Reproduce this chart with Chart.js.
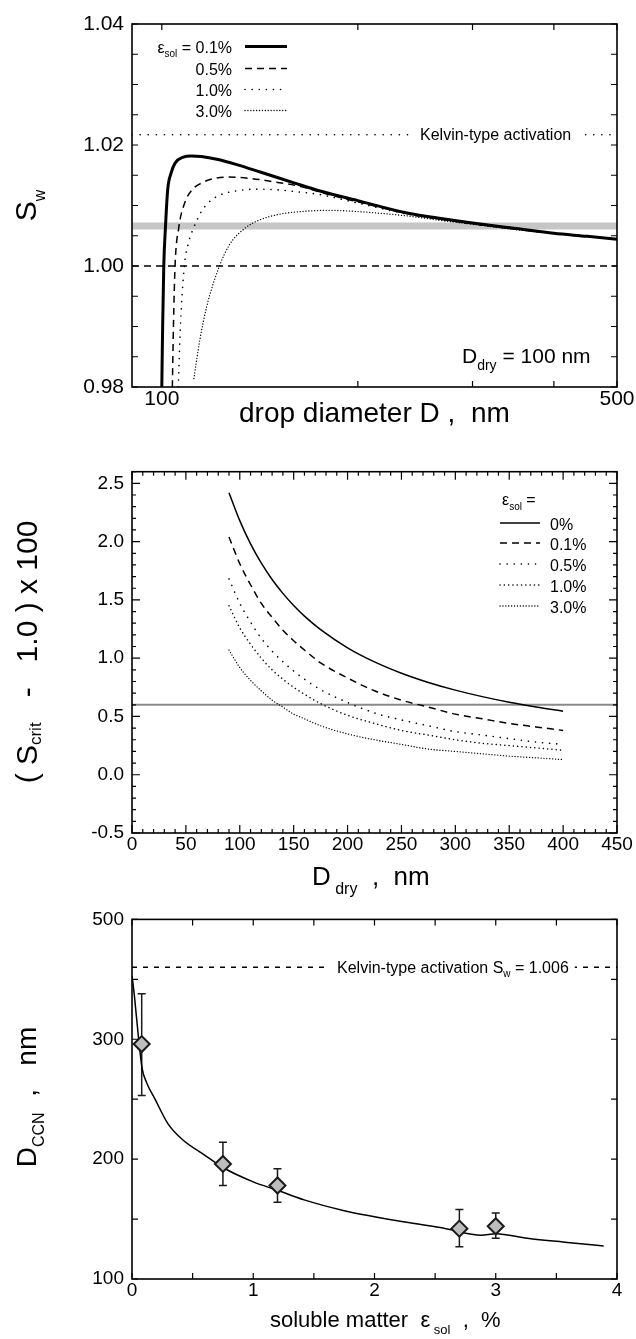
<!DOCTYPE html>
<html>
<head>
<meta charset="utf-8">
<script src="https://cdn.jsdelivr.net/npm/chart.js@4.4.1/dist/chart.umd.min.js"></script>
<style>
  html, body { margin:0; padding:0; background:#fff; }
  body { width:636px; height:1339px; position:relative; overflow:hidden; }
  canvas { position:absolute; left:0; }
</style>
</head>
<body>
<canvas id="c1" width="636" height="450" style="top:0px;width:636px;height:450px"></canvas>
<canvas id="c2" width="636" height="450" style="top:450px;width:636px;height:450px"></canvas>
<canvas id="c3" width="636" height="439" style="top:900px;width:636px;height:439px"></canvas>
<script>
const FONT = "'Liberation Sans', Arial, Helvetica, sans-serif";

// ================= Panel 1 : Köhler curves, D_dry = 100 nm =================
const p1XRange = [90, 500];
const p1YRange = [0.98, 1.04];
const p1XTickValues = [100, 500];
const p1XTickLabels = ['100', '500'];
const p1XMinorTicks = [200, 300, 400];
const p1YTickValues = [0.98, 1.00, 1.02, 1.04];
const p1YTickLabels = ['0.98', '1.00', '1.02', '1.04'];
const p1YMinorTicks = [0.985, 0.99, 0.995, 1.005, 1.01, 1.015, 1.025, 1.03, 1.035];
const p1Labels = ['0.1%', '0.5%', '1.0%', '3.0%'];

const p1D_01 = [100.0, 100.3, 100.7, 101.3, 102.1, 103.3, 104.8, 107.9, 111.0, 115.0, 122.0, 130.0, 142.0, 160.0, 175.0, 200.0, 237.0, 270.0, 300.0, 350.0, 400.0, 450.0, 500.0];
const p1S_01 = [0.9800, 0.9900, 1.0000, 1.0064, 1.0126, 1.0153, 1.0170, 1.0180, 1.0182, 1.0181, 1.0176, 1.0168, 1.0155, 1.0137, 1.0124, 1.0108, 1.0088, 1.0078, 1.0071, 1.0062, 1.0054, 1.0049, 1.0044];

const p1D_05 = [103.8, 104.2, 104.8, 106.2, 108.5, 111.3, 115.0, 120.7, 126.5, 136.0, 149.0, 164.0, 175.0, 200.0, 240.0, 270.0, 300.0, 350.0, 400.0, 450.0, 500.0];
const p1S_05 = [0.9800, 0.9900, 1.0000, 1.0064, 1.0105, 1.0126, 1.0137, 1.0145, 1.0147, 1.0145, 1.0139, 1.0131, 1.0122, 1.0106, 1.0086, 1.0077, 1.0070, 1.0061, 1.0054, 1.0049, 1.0044];

const p1D_10 = [106.0, 106.8, 108.3, 110.0, 112.0, 115.0, 118.0, 122.6, 130.0, 140.0, 150.0, 160.0, 175.0, 200.0, 240.0, 270.0, 300.0, 350.0, 400.0, 450.0, 500.0];
const p1S_10 = [0.9800, 0.9900, 1.0000, 1.0040, 1.0064, 1.0090, 1.0105, 1.0117, 1.0124, 1.0127, 1.0126, 1.0123, 1.0118, 1.0104, 1.0085, 1.0076, 1.0069, 1.0061, 1.0054, 1.0049, 1.0044];

const p1D_30 = [112.0, 114.4, 117.2, 122.6, 127.0, 134.0, 142.0, 154.4, 168.9, 180.0, 200.0, 237.0, 270.0, 300.0, 350.0, 400.0, 450.0, 500.0];
const p1S_30 = [0.9814, 0.9878, 0.9933, 1.0000, 1.0035, 1.0062, 1.0077, 1.0087, 1.0091, 1.0092, 1.0090, 1.0083, 1.0075, 1.0069, 1.0060, 1.0054, 1.0049, 1.0044];

const p1Kelvin = 1.0217;   // Kelvin-type activation level
const p1Band = 1.0066;     // grey band
const p1Unity = 1.000;     // dashed S_w = 1

// ================= Panel 2 : critical supersaturation vs D_dry =================
const p2XRange = [0, 450];
const p2YRange = [-0.5, 2.6];
const p2XTickValues = [0, 50, 100, 150, 200, 250, 300, 350, 400, 450];
const p2XTickLabels = ['0', '50', '100', '150', '200', '250', '300', '350', '400', '450'];
const p2YTickValues = [-0.5, 0.0, 0.5, 1.0, 1.5, 2.0, 2.5];
const p2YTickLabels = ['-0.5', '0.0', '0.5', '1.0', '1.5', '2.0', '2.5'];
const p2Labels = ['0%', '0.1%', '0.5%', '1.0%', '3.0%'];
const p2D = [90, 100, 110, 120, 130, 140, 150, 160, 175, 200, 225, 250, 275, 300, 325, 350, 375, 400];
const p2_00 = [2.42, 2.18, 1.98, 1.815, 1.675, 1.556, 1.452, 1.361, 1.245, 1.089, 0.968, 0.871, 0.792, 0.726, 0.670, 0.622, 0.581, 0.545];
const p2_01 = [2.04, 1.81, 1.63, 1.47, 1.35, 1.24, 1.15, 1.07, 0.96, 0.83, 0.72, 0.64, 0.58, 0.52, 0.48, 0.44, 0.41, 0.38];
const p2_05 = [1.68, 1.47, 1.31, 1.17, 1.06, 0.97, 0.89, 0.82, 0.73, 0.62, 0.53, 0.47, 0.42, 0.37, 0.34, 0.31, 0.28, 0.26];
const p2_10 = [1.45, 1.26, 1.12, 1.00, 0.90, 0.82, 0.75, 0.69, 0.61, 0.51, 0.44, 0.38, 0.34, 0.30, 0.27, 0.25, 0.23, 0.21];
const p2_30 = [1.07, 0.92, 0.81, 0.72, 0.64, 0.58, 0.52, 0.48, 0.42, 0.35, 0.30, 0.26, 0.22, 0.20, 0.18, 0.16, 0.145, 0.13];
const p2Ref = 0.6;

// ================= Panel 3 : D_CCN vs soluble matter =================
const p3XRange = [0, 4];
const p3YRange = [100, 400];
const p3XTickValues = [0, 1, 2, 3, 4];
const p3XTickLabels = ['0', '1', '2', '3', '4'];
const p3XMinorTicks = [0.5, 1.5, 2.5, 3.5];
const p3YTickValues = [100, 200, 300, 400];
const p3YTickLabels = ['100', '200', '300', '500'];
const p3YMinorTicks = [150, 250, 350];
const p3CurveX = [0.0, 0.02, 0.05, 0.083, 0.12, 0.19, 0.30, 0.42, 0.59, 0.75, 1.00, 1.20, 1.42, 1.75, 2.00, 2.25, 2.59, 2.88, 3.00, 3.26, 3.59, 3.89];
const p3CurveY = [353, 336, 305, 276, 264, 250, 229, 216, 204, 193, 181, 174, 166, 157, 152, 147.5, 142, 136.5, 137.8, 134, 130.5, 127.5];
const p3PtX = [0.08, 0.75, 1.2, 2.7, 3.0];
const p3PtY = [296, 196, 178, 142, 144];
const p3ErrHi = [338, 214, 192, 158, 155];
const p3ErrLo = [253, 178, 164, 127, 134];
const p3Kelvin = 360;

// ================= helpers =================
Chart.defaults.font.family = FONT;
Chart.defaults.color = '#000';

const LS = {
  solid:   { borderWidth: 1.5, borderDash: [], cap: 'butt' },
  thick:   { borderWidth: 3,   borderDash: [], cap: 'butt' },
  dashed:  { borderWidth: 1.5, borderDash: [7, 5], cap: 'butt' },
  dotWide: { borderWidth: 1.6, borderDash: [0.1, 7], cap: 'round' },
  dotMid:  { borderWidth: 1.5, borderDash: [0.1, 4.2], cap: 'round' },
  dotFine: { borderWidth: 1.3, borderDash: [0.1, 2.8], cap: 'round' },
  kelvin:  { borderWidth: 1.6, borderDash: [0.1, 8], cap: 'round' },
  dash3:   { borderWidth: 1.5, borderDash: [5, 6], cap: 'butt' }
};

function pts(xs, ys) { return xs.map((x, i) => ({ x: x, y: ys[i] })); }
function lineDS(xs, ys, st, order, color) {
  return {
    data: pts(xs, ys), borderColor: color || '#000', borderWidth: st.borderWidth,
    borderDash: st.borderDash, borderCapStyle: st.cap, pointRadius: 0, fill: false,
    cubicInterpolationMode: 'monotone', order: order
  };
}
function labelFor(vals, labels) {
  return function (v) {
    const i = vals.findIndex(t => Math.abs(t - v) < 1e-9);
    return i >= 0 ? labels[i] : '';
  };
}
function axis(type, range, tickVals, tickLabels, size, fitKey, fitVal, pad) {
  return {
    type: type, min: range[0], max: range[1],
    afterFit: s => { s[fitKey] = fitVal; },
    afterBuildTicks: s => { s.ticks = tickVals.map(v => ({ value: v })); },
    grid: { display: false, drawTicks: false },
    border: { display: false },
    ticks: { padding: pad, autoSkip: false, maxRotation: 0, font: { size: size, family: FONT }, color: '#000',
             callback: labelFor(tickVals, tickLabels) }
  };
}
function seg(ctx, x1, y1, x2, y2, st, color) {
  ctx.save();
  ctx.strokeStyle = color || '#000';
  ctx.lineWidth = st.borderWidth;
  ctx.setLineDash(st.borderDash);
  ctx.lineCap = st.cap;
  ctx.beginPath(); ctx.moveTo(x1, y1); ctx.lineTo(x2, y2); ctx.stroke();
  ctx.restore();
}
function rich(ctx, parts, x, y, align) {
  let w = 0;
  parts.forEach(p => { ctx.font = p[1] + 'px ' + FONT; w += ctx.measureText(p[0]).width; });
  let cx = align === 'center' ? x - w / 2 : (align === 'right' ? x - w : x);
  ctx.textAlign = 'left'; ctx.textBaseline = 'alphabetic'; ctx.fillStyle = '#000';
  parts.forEach(p => {
    ctx.font = p[1] + 'px ' + FONT;
    ctx.fillText(p[0], cx, y + (p[2] || 0));
    cx += ctx.measureText(p[0]).width;
  });
  return w;
}
function richWidth(ctx, parts) {
  let w = 0;
  parts.forEach(p => { ctx.font = p[1] + 'px ' + FONT; w += ctx.measureText(p[0]).width; });
  return w;
}
function yTitle(ctx, parts, cx, cy, size) {
  ctx.save();
  ctx.translate(cx, cy);
  ctx.rotate(-Math.PI / 2);
  rich(ctx, parts, 0, size * 0.36, 'center');
  ctx.restore();
}
function frame(chart, o) {
  const ctx = chart.ctx, a = chart.chartArea, x = chart.scales.x, y = chart.scales.y;
  ctx.save();
  ctx.strokeStyle = '#000';
  ctx.lineWidth = 1.2;
  ctx.setLineDash([]);
  const xt = (vals, len) => vals.forEach(v => {
    const p = x.getPixelForValue(v);
    ctx.beginPath(); ctx.moveTo(p, a.bottom); ctx.lineTo(p, a.bottom - len);
    ctx.moveTo(p, a.top); ctx.lineTo(p, a.top + len); ctx.stroke();
  });
  const yt = (vals, len) => vals.forEach(v => {
    const p = y.getPixelForValue(v);
    ctx.beginPath(); ctx.moveTo(a.left, p); ctx.lineTo(a.left + len, p);
    ctx.moveTo(a.right, p); ctx.lineTo(a.right - len, p); ctx.stroke();
  });
  xt(o.xMajor, o.majorLen); xt(o.xMinor, o.minorLen);
  yt(o.yMajor, o.majorLen); yt(o.yMinor, o.minorLen);
  ctx.lineWidth = 1.6;
  ctx.strokeRect(a.left, a.top, a.right - a.left, a.bottom - a.top);
  ctx.restore();
}
function minorRange(from, to, step, skipEvery) {
  const out = [];
  const n = Math.round((to - from) / step);
  for (let i = 0; i <= n; i++) { if (i % skipEvery !== 0) out.push(from + i * step); }
  return out;
}
function baseOptions(padTop) {
  return {
    responsive: false, animation: false, devicePixelRatio: 1,
    layout: { padding: { left: 0, right: 19, top: padTop, bottom: 0 } },
    plugins: { legend: { display: false }, tooltip: { enabled: false } },
    events: []
  };
}

// ================= Chart 1 =================
(function () {
  const st = [LS.thick, LS.dashed, LS.dotWide, LS.dotFine];
  const o = baseOptions(24);
  o.scales = {
    x: axis('logarithmic', p1XRange, p1XTickValues, p1XTickLabels, 21, 'height', 63, 0),
    y: axis('linear', p1YRange, p1YTickValues, p1YTickLabels, 21, 'width', 132, 8)
  };
  new Chart(document.getElementById('c1'), {
    type: 'line',
    data: { datasets: [
      lineDS(p1D_01, p1S_01, st[0], 1),
      lineDS(p1D_05, p1S_05, st[1], 2),
      lineDS(p1D_10, p1S_10, st[2], 3),
      lineDS(p1D_30, p1S_30, st[3], 4),
      lineDS(p1XRange, [p1Unity, p1Unity], LS.dashed, 5),
      lineDS(p1XRange, [p1Kelvin, p1Kelvin], LS.kelvin, 6),
      lineDS(p1XRange, [p1Band, p1Band], { borderWidth: 7, borderDash: [], cap: 'butt' }, 9, '#c6c6c6')
    ]},
    options: o,
    plugins: [{
      id: 'deco1',
      afterDatasetsDraw(chart) {
        const ctx = chart.ctx, y = chart.scales.y;
        frame(chart, { xMajor: p1XTickValues, xMinor: p1XMinorTicks, yMajor: p1YTickValues, yMinor: p1YMinorTicks, majorLen: 6, minorLen: 6 });
        // legend
        const rows = [53, 75, 96, 117];
        rows.forEach((by, i) => {
          const parts = i === 0 ? [['\u03b5', 16], ['sol', 10, 4], [' = ' + p1Labels[0], 16]] : [[p1Labels[i], 16]];
          rich(ctx, parts, 232, by, 'right');
          seg(ctx, 245, by - 6.5, 287, by - 6.5, st[i]);
        });
        // Kelvin label with blank background
        const ky = y.getPixelForValue(p1Kelvin);
        const kp = [['Kelvin-type activation', 16]];
        const kw = richWidth(ctx, kp);
        ctx.fillStyle = '#fff';
        ctx.fillRect(420 - 11, ky - 10, kw + 22, 20);
        rich(ctx, kp, 420, ky + 5.5, 'left');
        // D_dry label
        rich(ctx, [['D', 21], ['dry', 14, 7], [' = 100 nm', 21]], 462, 363, 'left');
        // axis titles
        rich(ctx, [['drop diameter D ,  nm', 28]], 239, 422, 'left');
        yTitle(ctx, [['S', 30], ['w', 16, 9]], 25, 205.5, 30);
      }
    }]
  });
})();

// ================= Chart 2 =================
(function () {
  const st = [LS.solid, LS.dashed, LS.dotWide, LS.dotMid, LS.dotFine];
  const o = baseOptions(21.7);
  o.scales = {
    x: axis('linear', p2XRange, p2XTickValues, p2XTickLabels, 19, 'height', 67, 0),
    y: axis('linear', p2YRange, p2YTickValues, p2YTickLabels, 19, 'width', 132, 8)
  };
  const series = [p2_00, p2_01, p2_05, p2_10, p2_30];
  const ds = series.map((s, i) => lineDS(p2D, s, st[i], i + 1));
  ds.push(lineDS(p2XRange, [p2Ref, p2Ref], { borderWidth: 2, borderDash: [], cap: 'butt' }, 9, '#8a8a8a'));
  new Chart(document.getElementById('c2'), {
    type: 'line',
    data: { datasets: ds },
    options: o,
    plugins: [{
      id: 'deco2',
      afterDatasetsDraw(chart) {
        const ctx = chart.ctx;
        frame(chart, {
          xMajor: p2XTickValues, xMinor: minorRange(0, 450, 10, 5),
          yMajor: p2YTickValues, yMinor: minorRange(-0.5, 2.6, 0.1, 5),
          majorLen: 8, minorLen: 4
        });
        rich(ctx, [['\u03b5', 16], ['sol', 10, 5], [' =', 16]], 502, 505 - 450, 'left');
        const rows = [530, 550, 571, 592, 613];
        rows.forEach((by, i) => {
          const yy = by - 450;
          seg(ctx, 500, yy - 7, 540, yy - 7, st[i]);
          rich(ctx, [[p2Labels[i], 16]], 550, yy, 'left');
        });
        rich(ctx, [['D', 26], [' dry', 16, 9], ['  ,  nm', 26]], 312, 885 - 450, 'left');
        yTitle(ctx, [['( S', 30], ['crit', 17, 4], ['   -   1.0 ) x 100', 30]], 26, 652 - 450, 30);
      }
    }]
  });
})();

// ================= Chart 3 =================
(function () {
  const o = baseOptions(15);
  o.scales = {
    x: axis('linear', p3XRange, p3XTickValues, p3XTickLabels, 19, 'height', 60, 0),
    y: axis('linear', p3YRange, p3YTickValues, p3YTickLabels, 19, 'width', 132, 8)
  };
  new Chart(document.getElementById('c3'), {
    type: 'line',
    data: { datasets: [
      { data: pts(p3PtX, p3PtY), showLine: false, pointStyle: 'rectRot', pointRadius: 8,
        pointBackgroundColor: '#bdbdbd', pointBorderColor: '#1a1a1a', pointBorderWidth: 2, order: 0 },
      lineDS(p3CurveX, p3CurveY, LS.solid, 2),
      lineDS(p3XRange, [p3Kelvin, p3Kelvin], LS.dash3, 5)
    ]},
    options: o,
    plugins: [{
      id: 'deco3',
      beforeDatasetsDraw(chart) {
        const ctx = chart.ctx, x = chart.scales.x, y = chart.scales.y;
        ctx.save();
        ctx.strokeStyle = '#1a1a1a'; ctx.lineWidth = 1.5;
        p3PtX.forEach((v, i) => {
          const px = x.getPixelForValue(v), hi = y.getPixelForValue(p3ErrHi[i]), lo = y.getPixelForValue(p3ErrLo[i]);
          ctx.beginPath();
          ctx.moveTo(px, hi); ctx.lineTo(px, lo);
          ctx.moveTo(px - 4, hi); ctx.lineTo(px + 4, hi);
          ctx.moveTo(px - 4, lo); ctx.lineTo(px + 4, lo);
          ctx.stroke();
        });
        ctx.restore();
      },
      afterDatasetsDraw(chart) {
        const ctx = chart.ctx, y = chart.scales.y;
        frame(chart, { xMajor: p3XTickValues, xMinor: p3XMinorTicks, yMajor: p3YTickValues, yMinor: p3YMinorTicks, majorLen: 6, minorLen: 6 });
        const ky = y.getPixelForValue(p3Kelvin);
        const kp = [['Kelvin-type activation S', 16], ['w', 10, 4], [' = 1.006', 16]];
        const kw = richWidth(ctx, kp);
        ctx.fillStyle = '#fff';
        ctx.fillRect(337 - 10, ky - 10, kw + 16, 20);
        rich(ctx, kp, 337, ky + 5.5, 'left');
        rich(ctx, [['soluble matter  \u03b5', 22], [' sol', 13, 7], ['  ,  %', 22]], 270, 1327 - 900, 'left');
        yTitle(ctx, [['D', 28], ['CCN', 16, 8], ['  ,   nm', 28]], 26, 1097 - 900, 28);
      }
    }]
  });
})();
</script>
</body>
</html>
